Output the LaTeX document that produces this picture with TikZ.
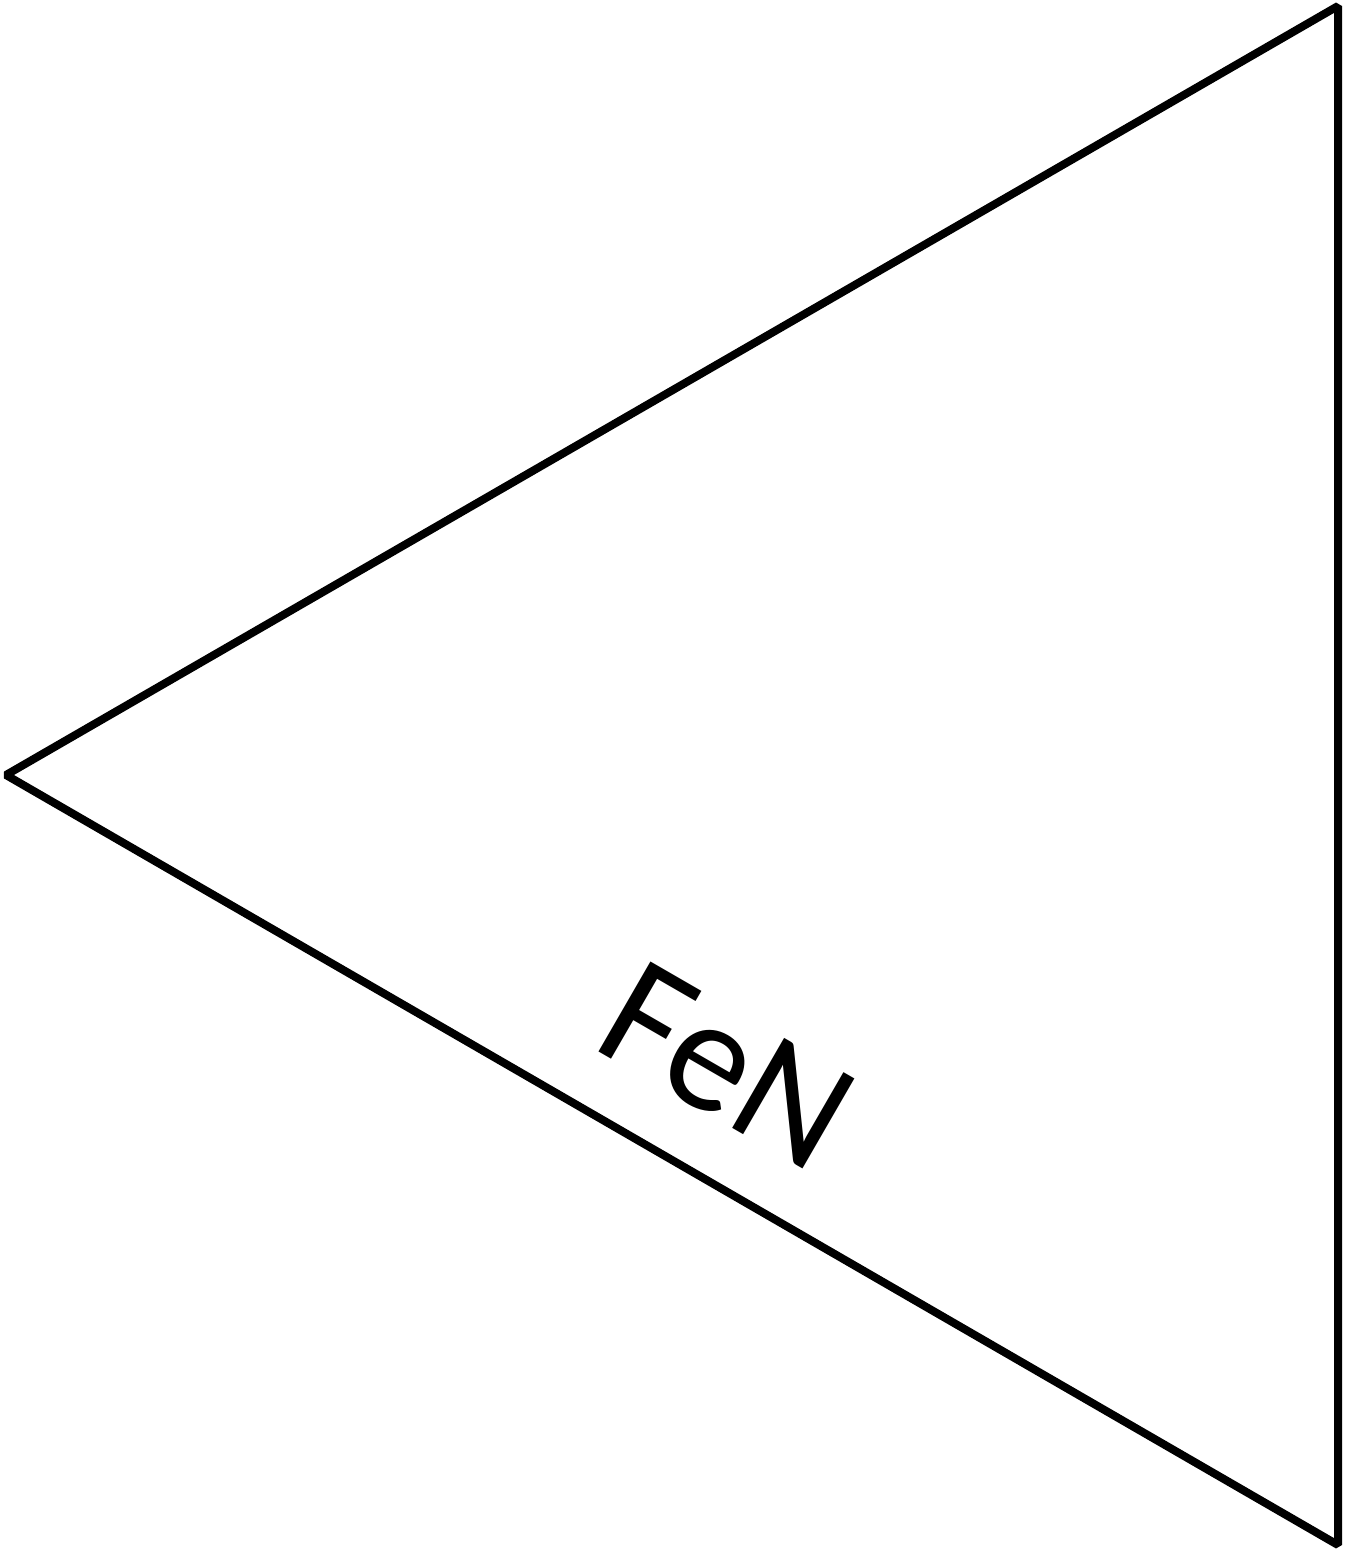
\documentclass[tikz,border=0pt]{standalone}
\usepackage{fontspec}
\setmainfont{Carlito}
\begin{document}
\begin{tikzpicture}[x=1pt,y=-1pt,
  edge/.style={line width=8pt,line join=bevel},
  lbl/.style={font=\fontsize{162}{174}\selectfont,rotate=-30,inner sep=0pt}]
\useasboundingbox (0,0) rectangle (1356,1554);
\coordinate (L) at (6,775);
\coordinate (T) at (1338,6);
\coordinate (B) at (1338,1545);
\draw[edge] (L) -- (T) -- (B) -- cycle;
\node[lbl] (fen) at (727,1066) {FeN};
\end{tikzpicture}
\end{document}
